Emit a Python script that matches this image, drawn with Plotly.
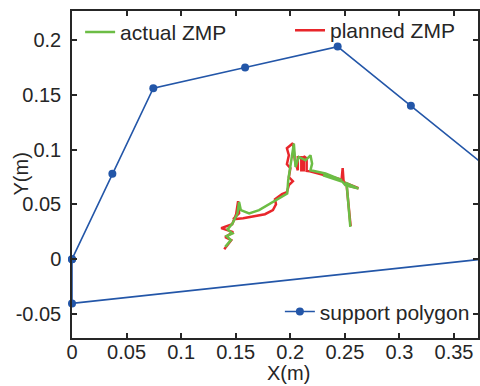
import plotly.graph_objects as go

# Support polygon vertices (m)
poly_x = [0.0, 0.037, 0.0745, 0.1586, 0.2434, 0.3105, 0.395, 0.395, 0.0, 0.0]
poly_y = [0.0, 0.078, 0.156, 0.175, 0.194, 0.140, 0.072, 0.002, -0.0404, 0.0]

# Planned ZMP trajectory (m)
plan_x = [0.1395, 0.1459, 0.1404, 0.1477, 0.1367, 0.1468, 0.1504, 0.1522, 0.1531, 0.1477,
          0.1568, 0.1677, 0.1768, 0.1841, 0.1869, 0.1860, 0.1924, 0.1969, 0.1987, 0.2024,
          0.1987, 0.2001, 0.1969, 0.1987, 0.1969, 0.2024, 0.2042, 0.2069, 0.2069, 0.2101,
          0.2101, 0.2124, 0.2124, 0.2150, 0.2150, 0.2179, 0.2352, 0.2498, 0.2300, 0.2470,
          0.2480, 0.2489, 0.2625, 0.2516, 0.2553]
plan_y = [0.0091, 0.0173, 0.0201, 0.0246, 0.0283, 0.0319, 0.0410, 0.0529, 0.0419, 0.0365,
          0.0374, 0.0392, 0.0410, 0.0447, 0.0501, 0.0547, 0.0593, 0.0611, 0.0675, 0.0711,
          0.0748, 0.0830, 0.0866, 0.0948, 0.1012, 0.1057, 0.0902, 0.0811, 0.0930, 0.0930,
          0.0811, 0.0811, 0.0939, 0.0920, 0.0805, 0.0802, 0.0757, 0.0711, 0.0775, 0.0725,
          0.0830, 0.0702, 0.0647, 0.0675, 0.0301]

# Measured (actual) ZMP trajectory (m)
act_x = [0.1404, 0.1456, 0.1416, 0.1470, 0.1425, 0.1470, 0.1516, 0.1531, 0.1547, 0.1623,
         0.1714, 0.1866, 0.1972, 0.1981, 0.2003, 0.2017, 0.2033, 0.2048, 0.2078, 0.2140,
         0.2185, 0.2200, 0.2185, 0.2322, 0.2473, 0.2300, 0.2480, 0.2504, 0.2625, 0.2516,
         0.2550]
act_y = [0.0112, 0.0173, 0.0210, 0.0234, 0.0271, 0.0325, 0.0417, 0.0522, 0.0447, 0.0417,
         0.0447, 0.0538, 0.0599, 0.0720, 0.0872, 0.0933, 0.1055, 0.0841, 0.0933, 0.0902,
         0.0948, 0.0872, 0.0811, 0.0781, 0.0720, 0.0765, 0.0705, 0.0675, 0.0644, 0.0693,
         0.0294]

x_ticks = [0, 0.05, 0.1, 0.15, 0.2, 0.25, 0.3, 0.35]
x_tick_text = ["0", "0.05", "0.1", "0.15", "0.2", "0.25", "0.3", "0.35"]
y_ticks = [-0.05, 0, 0.05, 0.1, 0.15, 0.2]
y_tick_text = ["-0.05", "0", "0.05", "0.1", "0.15", "0.2"]

BLUE = "#2356a8"
RED = "#e8262b"
GREEN = "#6cbd45"
INK = "#262626"
FONT = "Liberation Sans"

fig = go.Figure()
fig.add_trace(go.Scatter(x=poly_x, y=poly_y, mode="lines+markers", name="support polygon",
                         line=dict(color=BLUE, width=1.6), marker=dict(color=BLUE, size=8),
                         cliponaxis=False, legend="legend3", showlegend=True))
fig.add_trace(go.Scatter(x=plan_x, y=plan_y, mode="lines", name="planned ZMP",
                         line=dict(color=RED, width=2.5), legend="legend2", showlegend=True))
fig.add_trace(go.Scatter(x=act_x, y=act_y, mode="lines", name="actual ZMP",
                         line=dict(color=GREEN, width=2.5), legend="legend", showlegend=True))

axis_common = dict(showgrid=False, zeroline=False, showline=True, linecolor=INK, linewidth=1.5,
                   ticks="inside", ticklen=5, tickwidth=1.5, tickcolor=INK, mirror="ticks",
                   tickfont=dict(family=FONT, size=20, color=INK))

legend_common = dict(bgcolor="rgba(0,0,0,0)", borderwidth=0,
                     font=dict(family=FONT, size=21, color=INK),
                     xanchor="left", yanchor="middle", tracegroupgap=0)

fig.update_layout(
    width=480, height=386,
    showlegend=True,
    margin=dict(l=72, r=0, t=11, b=48),
    paper_bgcolor="white", plot_bgcolor="white",
    xaxis=dict(range=[0, 0.372], tickvals=x_ticks, ticktext=x_tick_text, ticklabelstandoff=-5,
               **axis_common),
    yaxis=dict(range=[-0.072, 0.2265], tickvals=y_ticks, ticktext=y_tick_text, ticklabelstandoff=5,
               **axis_common),
    legend=dict(x=0.02, y=0.935, **legend_common),
    legend2=dict(x=0.537, y=0.94, **legend_common),
    legend3=dict(x=0.512, y=0.08, **legend_common),
    annotations=[
        dict(text="X(m)", xref="paper", yref="paper", x=0.534, y=0, yshift=-35,
             xanchor="center", yanchor="middle", showarrow=False,
             font=dict(family=FONT, size=20, color=INK)),
        dict(text="Y(m)", xref="paper", yref="paper", x=0, xshift=-52, y=0.5,
             textangle=-90, xanchor="center", yanchor="middle", showarrow=False,
             font=dict(family=FONT, size=20, color=INK)),
    ],
)

fig.write_html("out.html")
